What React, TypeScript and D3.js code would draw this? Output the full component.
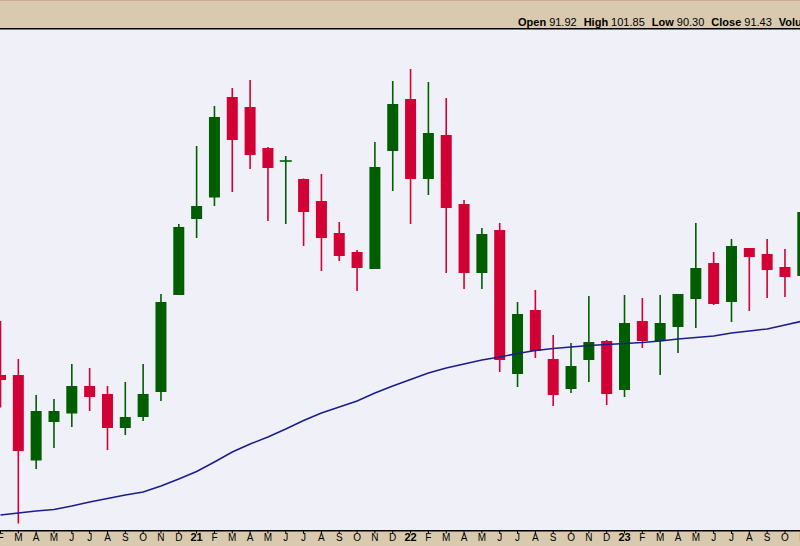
import React from "react";
import * as d3 from "d3";

// Monthly bars, Feb 2020 .. Nov 2023
const monthLabels = [
  "F","M","A","M","J","J","A","S","O","N","D",
  "21","F","M","A","M","J","J","A","S","O","N","D",
  "22","F","M","A","M","J","J","A","S","O","N","D",
  "23","F","M","A","M","J","J","A","S","O","N",
];
const yearLabels = ["21", "22", "23"];

const opens = [
  65.0, 65.0, 47.9, 55.6, 57.3, 62.8, 61.2, 54.4, 56.6, 61.6, 81.0,
  96.2, 100.5, 120.6, 118.6, 110.4, 107.7, 104.2, 99.8, 93.4, 89.6, 86.2, 109.8,
  120.2, 104.2, 113.0, 99.2, 85.4, 94.0, 65.2, 78.0, 68.2, 62.2, 68.0, 71.8,
  62.0, 75.8, 71.8, 74.6, 80.2, 87.4, 79.6, 90.4, 89.2, 86.6, 84.8,
];
const highs = [
  75.8, 68.2, 61.0, 60.2, 67.2, 66.4, 62.8, 63.6, 67.2, 81.2, 95.2,
  110.8, 118.8, 122.4, 124.0, 110.6, 108.8, 104.3, 105.2, 95.6, 90.0, 111.6, 123.8,
  126.2, 123.6, 120.4, 100.0, 94.4, 95.4, 79.6, 82.0, 73.0, 71.4, 80.8, 72.0,
  81.0, 80.4, 81.0, 81.2, 95.4, 89.6, 92.2, 90.4, 92.2, 90.2, 99.0,
];
const lows = [
  58.5, 35.3, 46.2, 50.4, 54.6, 57.8, 50.0, 53.0, 55.8, 59.8, 81.0,
  92.4, 98.8, 101.6, 106.2, 95.8, 95.2, 90.8, 85.8, 87.8, 81.8, 86.2, 101.8,
  95.2, 101.0, 85.4, 82.2, 82.2, 65.6, 62.6, 68.4, 58.8, 61.4, 63.6, 59.0,
  60.6, 70.4, 65.0, 69.4, 74.4, 79.0, 75.6, 77.8, 80.4, 80.6, 84.8,
];
const closes = [
  64.0, 49.8, 57.8, 57.8, 62.8, 60.6, 54.4, 56.6, 61.2, 79.6, 94.6,
  98.8, 116.6, 112.0, 109.0, 106.4, 107.8, 97.6, 92.4, 88.8, 86.4, 106.6, 119.2,
  104.2, 113.4, 98.4, 85.4, 93.2, 68.0, 77.2, 69.8, 61.0, 66.8, 71.6, 61.2,
  75.4, 71.8, 75.4, 81.2, 86.4, 79.2, 90.8, 88.6, 86.0, 84.6, 97.6,
];
const movingAvg = [
  37.0, 37.4, 37.8, 38.1, 38.8, 39.6, 40.3, 41.0, 41.6, 42.8, 44.2,
  45.7, 47.6, 49.6, 51.2, 52.6, 54.2, 55.9, 57.4, 58.6, 59.8, 61.4, 62.8,
  64.1, 65.4, 66.4, 67.2, 68.0, 68.6, 69.3, 69.9, 70.3, 70.6, 70.9, 71.1,
  71.3, 71.5, 71.8, 72.2, 72.5, 72.8, 73.4, 73.8, 74.2, 75.0, 75.8,
];

const headerItems = [
  { label: "Open", value: "91.92" },
  { label: "High", value: "101.85" },
  { label: "Low", value: "90.30" },
  { label: "Close", value: "91.43" },
  { label: "Volume", value: "" },
];

const W = 800;
const H = 546;
const HEADER_H = 28;
const AXIS_Y = 530;
const RED = "#d10035";
const GREEN = "#005e00";
const TAN = "#d9c9ae";
const BG = "#f0f0f8";
const FONT = "'Liberation Sans', Arial, Helvetica, sans-serif";

export default function App() {
  const n = opens.length;
  const x = d3.scaleLinear().domain([0, n - 1]).range([0.5, 802.8]);
  const y = d3.scaleLinear().domain([34, 134.4]).range([AXIS_Y, HEADER_H]);
  const bodyW = 11;

  const maLine = d3
    .line<number>()
    .x((_, i) => x(i))
    .y((d) => y(d))(movingAvg) as string;

  return (
    <svg
      width={W}
      height={H}
      style={{ position: "absolute", left: 0, top: 0, display: "block" }}
    >
      <defs>
        <clipPath id="plotClip">
          <rect x={0} y={HEADER_H + 1} width={W} height={AXIS_Y - HEADER_H - 1} />
        </clipPath>
      </defs>
      {/* header band */}
      <rect x={0} y={0} width={W} height={HEADER_H} fill={TAN} />
      <rect x={0} y={0} width={W} height={1} fill="#c8ad96" />
      {/* plot background */}
      <rect x={0} y={HEADER_H} width={W} height={AXIS_Y - HEADER_H} fill={BG} />
      <rect x={0} y={HEADER_H} width={W} height={1.5} fill="#000" />

      <g clipPath="url(#plotClip)">
        {opens.map((o, i) => {
          const c = closes[i];
          const up = c >= o;
          const col = up ? GREEN : RED;
          const cx = x(i);
          const top = y(Math.max(o, c));
          const bot = y(Math.min(o, c));
          const h = bot - top;
          return (
            <g key={i}>
              <line
                x1={cx}
                x2={cx}
                y1={y(highs[i])}
                y2={y(lows[i])}
                stroke={col}
                strokeWidth={1.6}
              />
              {h < 1.5 ? (
                <line
                  x1={cx - bodyW / 2 - 0.5}
                  x2={cx + bodyW / 2 + 0.5}
                  y1={top}
                  y2={top}
                  stroke={col}
                  strokeWidth={1.6}
                />
              ) : (
                <rect
                  x={cx - bodyW / 2}
                  y={top}
                  width={bodyW}
                  height={h}
                  fill={col}
                />
              )}
            </g>
          );
        })}
        <path d={maLine} fill="none" stroke="#1c1c8e" strokeWidth={1.5} />
      </g>

      {/* axis band */}
      <rect x={0} y={AXIS_Y} width={W} height={H - AXIS_Y} fill={TAN} />
      <rect x={0} y={AXIS_Y} width={W} height={1.5} fill="#000" />
      {monthLabels.map((m, i) => {
        const isYear = yearLabels.includes(m);
        return (
          <g key={"t" + i}>
            <line
              x1={x(i)}
              x2={x(i)}
              y1={AXIS_Y}
              y2={AXIS_Y + 3.5}
              stroke="#000"
              strokeWidth={1}
            />
            <text
              x={x(i)}
              y={541}
              textAnchor="middle"
              fontFamily={FONT}
              fontSize={isYear ? 11 : 10}
              fontWeight={isYear ? "bold" : "normal"}
              fill="#000"
            >
              {m}
            </text>
          </g>
        );
      })}

      {/* header text */}
      <text x={518} y={26} fontFamily={FONT} fontSize={11} fill="#000">
        {headerItems.map((it, k) => (
          <React.Fragment key={k}>
            <tspan fontWeight="bold" dx={k === 0 ? 0 : 7}>
              {it.label}
            </tspan>
            {it.value && <tspan dx={3}>{it.value}</tspan>}
          </React.Fragment>
        ))}
      </text>
    </svg>
  );
}
